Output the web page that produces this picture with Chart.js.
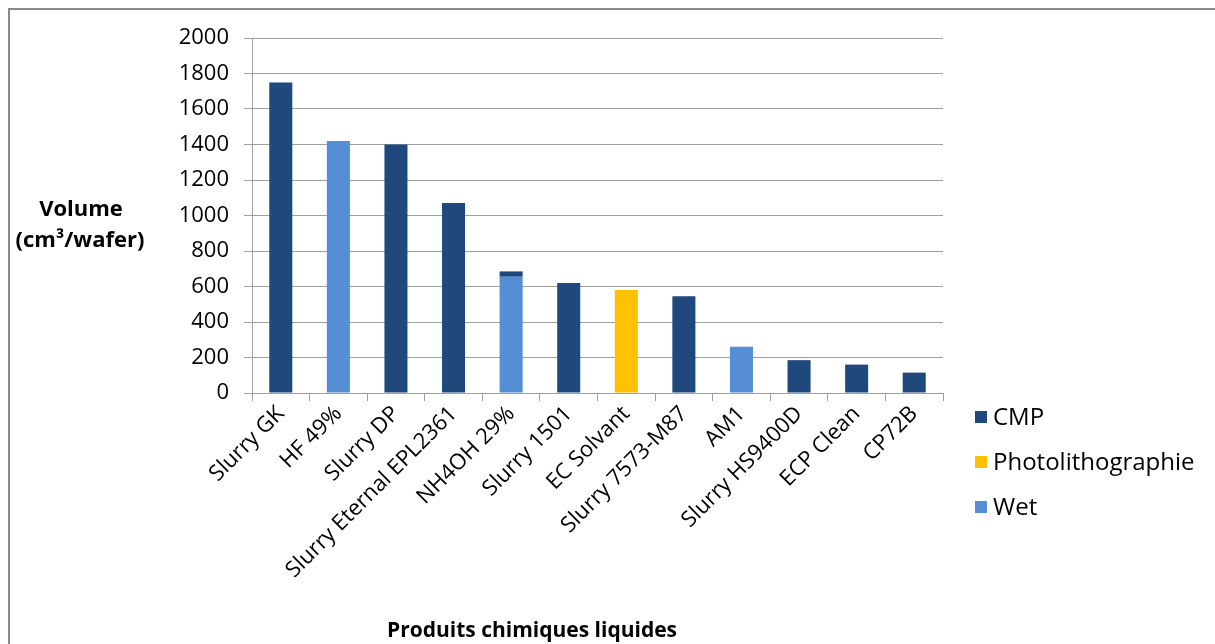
<!DOCTYPE html>
<html>
<head>
<meta charset="utf-8">
<script src="https://cdn.jsdelivr.net/npm/chart.js@4/dist/chart.umd.min.js"></script>
<style>
  html, body { margin: 0; padding: 0; background: #fff; }
  #wrap { position: relative; width: 1215px; height: 644px; }
</style>
</head>
<body>
<div id="wrap"><canvas id="c" width="1215" height="644"></canvas></div>
<script>
const categories = ["Slurry GK", "HF 49%", "Slurry DP", "Slurry Eternal EPL2361", "NH4OH 29%", "Slurry 1501", "EC Solvant", "Slurry 7573-M87", "AM1", "Slurry HS9400D", "ECP Clean", "CP72B"];
const cmpValues = [1750, null, 1400, 1070, 30, 620, null, 545, null, 185, 160, 115];
const photoValues = [null, null, null, null, null, null, 580, null, null, null, null, null];
const wetValues = [null, 1420, null, null, 655, null, null, null, 260, null, null, null];
const yTicks = [0, 200, 400, 600, 800, 1000, 1200, 1400, 1600, 1800, 2000];
const seriesNames = ["CMP", "Photolithographie", "Wet"];
const seriesColors = ["#1F497D", "#FFC000", "#558ED5"];

const FONT = "'Open Sans', 'DejaVu Sans', sans-serif";

const decor = {
  id: 'decor',
  afterDraw(chart) {
    const ctx = chart.ctx;
    ctx.save();
    ctx.strokeStyle = '#8a8a8a';
    ctx.lineWidth = 2;
    ctx.beginPath();
    ctx.moveTo(9, 644); ctx.lineTo(9, 9); ctx.lineTo(1215, 9);
    ctx.stroke();
    ctx.fillStyle = '#000';
    ctx.textAlign = 'center';
    ctx.textBaseline = 'middle';
    ctx.font = 'bold 22px ' + FONT;
    ctx.fillText('Volume', 81, 210);
    ctx.fillText('(cm\u00B3/wafer)', 80, 241);
    ctx.font = 'bold 21px ' + FONT;
    ctx.fillText('Produits chimiques liquides', 532, 631);
    ctx.textAlign = 'left';
    ctx.font = '24px ' + FONT;
    const ys = [417, 462, 507];
    for (let i = 0; i < seriesNames.length; i++) {
      ctx.fillStyle = seriesColors[i];
      ctx.fillRect(975, ys[i] - 6, 12, 12);
      ctx.fillStyle = '#000';
      ctx.fillText(seriesNames[i], 993, ys[i] + 1);
    }
    ctx.restore();
  }
};

new Chart(document.getElementById('c'), {
  type: 'bar',
  data: {
    labels: categories,
    datasets: [
      { label: seriesNames[2], data: wetValues, backgroundColor: seriesColors[2] },
      { label: seriesNames[1], data: photoValues, backgroundColor: seriesColors[1] },
      { label: seriesNames[0], data: cmpValues, backgroundColor: seriesColors[0] }
    ]
  },
  options: {
    responsive: false,
    animation: false,
    devicePixelRatio: 1,
    categoryPercentage: 1.0,
    barPercentage: 0.4,
    layout: { padding: { top: 38, right: 272, bottom: 0, left: 0 } },
    plugins: { legend: { display: false }, tooltip: { enabled: false } },
    scales: {
      x: {
        stacked: true,
        afterFit(scale) { scale.height = 251; },
        grid: { drawOnChartArea: false, color: '#a0a0a0', tickLength: 8, offset: true },
        border: { color: '#a0a0a0', width: 1 },
        ticks: { color: '#000', font: { family: FONT, size: 22 }, minRotation: 45, maxRotation: 45, padding: 0, autoSkip: false }
      },
      y: {
        stacked: true,
        min: 0, max: 2000,
        afterFit(scale) { scale.width = 252; },
        afterBuildTicks(scale) { scale.ticks = yTicks.map(v => ({ value: v })); },
        grid: { color: '#a0a0a0', tickLength: 8 },
        border: { color: '#a0a0a0', width: 1 },
        ticks: { color: '#000', font: { family: FONT, size: 22 }, padding: 15, callback: v => String(v) }
      }
    }
  },
  plugins: [decor]
});
</script>
</body>
</html>
